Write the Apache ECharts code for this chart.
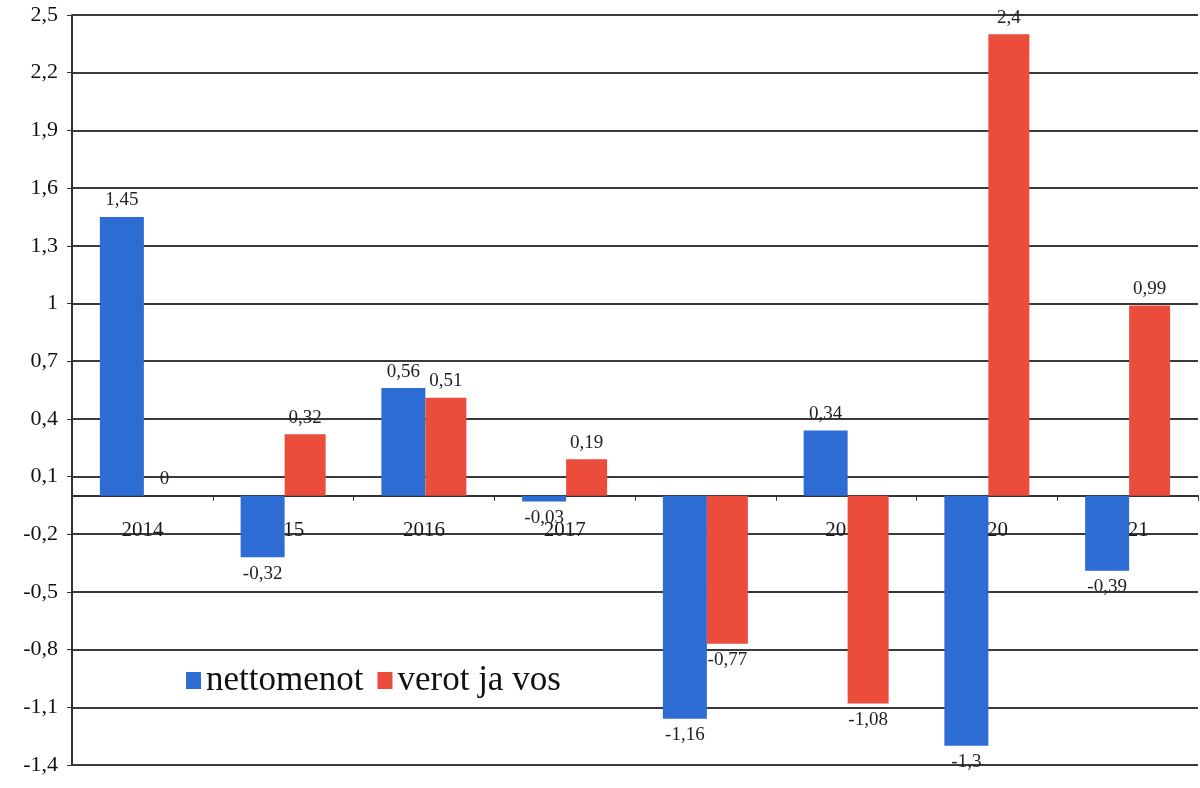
<!DOCTYPE html>
<html><head><meta charset="utf-8">
<script src="https://cdn.jsdelivr.net/npm/echarts@6/dist/echarts.min.js"></script>
<style>html,body{margin:0;padding:0;background:#fff}#c{width:1200px;height:788px}</style>
</head><body><div id="c"></div>
<script>
const categories = ['2014','2015','2016','2017','2018','2019','2020','2021'];
const nettomenot = [1.45, -0.32, 0.56, -0.03, -1.16, 0.34, -1.3, -0.39];
const verot = [0, 0.32, 0.51, 0.19, -0.77, -1.08, 2.4, 0.99];
const seriesNames = ['nettomenot', 'verot ja vos'];

const fmt = v => String(Math.round(v * 100) / 100).replace('.', ',');
const toData = arr => arr.map(v => ({ value: v, label: { position: v >= 0 ? 'top' : 'bottom' } }));
const font = '"Liberation Serif", "DejaVu Serif", serif';

const chart = echarts.init(document.getElementById('c'));
chart.setOption({
  animation: false,
  backgroundColor: '#fff',
  textStyle: { fontFamily: font },
  grid: { left: 72, right: 2, top: 15, bottom: 23, containLabel: false, outerBoundsMode: 'none' },
  legend: {
    left: 181, top: 658, itemWidth: 15, itemHeight: 17, itemGap: 14, icon: 'rect',
    textStyle: { fontFamily: font, fontSize: 35, color: '#111' },
    data: seriesNames
  },
  xAxis: {
    type: 'category', data: categories,
    axisLine: { onZero: true, lineStyle: { color: '#333', width: 2 } },
    axisTick: { show: true, length: 5, lineStyle: { color: '#333' } },
    axisLabel: { show: false },
    z: 0
  },
  yAxis: {
    type: 'value', min: -1.4, max: 2.5, interval: 0.3,
    axisLine: { show: true, lineStyle: { color: '#333', width: 2 } },
    axisTick: { show: true, length: 5, lineStyle: { color: '#333' } },
    axisLabel: { fontFamily: font, fontSize: 22, color: '#111', margin: 14,
      formatter: v => String(Math.round(v * 10) / 10).replace('.', ',') },
    splitLine: { lineStyle: { color: '#3a3a3a', width: 2 } }
  },
  series: [
    { name: 'catLabels', type: 'scatter', symbolSize: 0, z: 1, silent: true,
      itemStyle: { opacity: 1 },
      data: categories.map(c => [c, 0]),
      label: { show: true, position: 'bottom', distance: 24, formatter: p => p.value[0],
        fontFamily: font, fontSize: 21, color: '#1a1a1a', opacity: 1 } },
    { name: seriesNames[0], type: 'bar', data: toData(nettomenot), barWidth: 44, barGap: '0%', z: 2,
      itemStyle: { color: '#2d6cd2' },
      label: { show: true, formatter: p => fmt(p.value), fontFamily: font, fontSize: 19, color: '#222', distance: 7 } },
    { name: seriesNames[1], type: 'bar', data: toData(verot), barWidth: 41, z: 2,
      itemStyle: { color: '#eb4c3c' },
      label: { show: true, formatter: p => fmt(p.value), fontFamily: font, fontSize: 19, color: '#222', distance: 7 } }
  ]
});
</script></body></html>
